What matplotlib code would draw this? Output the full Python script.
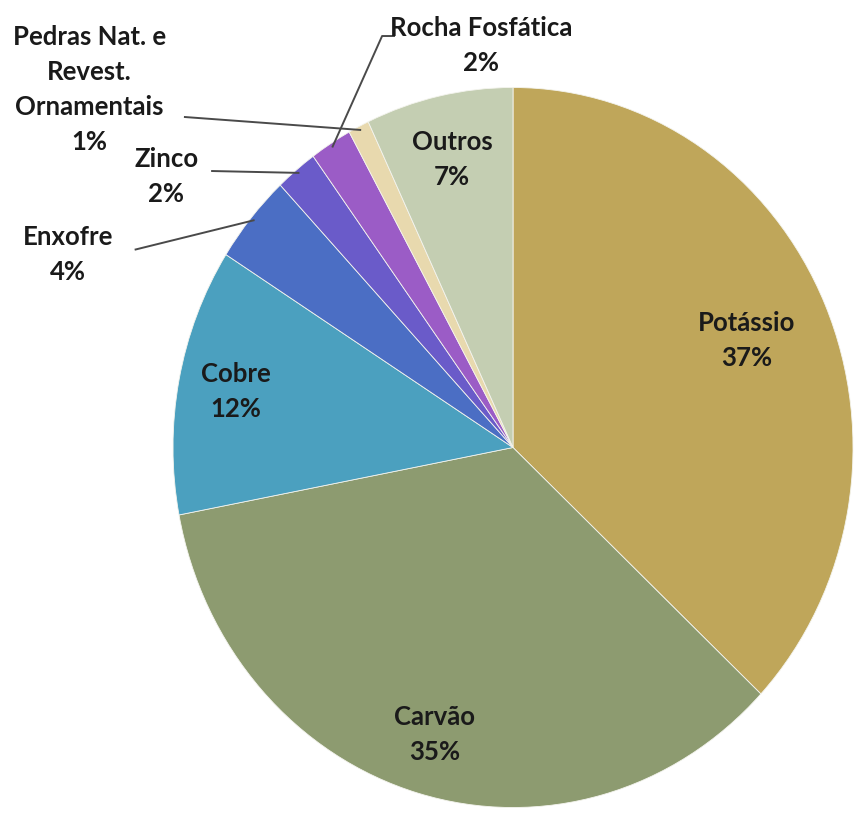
import numpy as np
import matplotlib.pyplot as plt

# shares of mineral production (%), clockwise from 12 o'clock
names = ['Potássio', 'Carvão', 'Cobre', 'Enxofre', 'Zinco',
         'Rocha Fosfática', 'Pedras Nat. e\nRevest.\nOrnamentais', 'Outros']
shares = [37, 35, 12, 4, 2, 2, 1, 7]
colors = ['#BFA65A', '#8D9B70', '#4BA0BF', '#4B6EC4', '#6A5BC9',
          '#9B5CC6', '#E8D9AE', '#C4CEB2']

fig = plt.figure(figsize=(8.59, 8.14), dpi=100)
W, H = 859, 814
cx, cy, rx, ry = 513, 447.5, 340, 360
ax = fig.add_axes([(cx - rx) / W, (H - cy - ry) / H, 2 * rx / W, 2 * ry / H])

wedges, _ = ax.pie(shares, colors=colors, startangle=90, counterclock=False,
                   wedgeprops=dict(linewidth=0.6, edgecolor='#f4f4ee'))
ax.set_aspect('auto')
ax.set_xlim(-1, 1)
ax.set_ylim(-1, 1)
ax.axis('off')

font = dict(family='Lato', fontweight='bold', fontsize=18.5, color='#1a1a1a',
            ha='center', va='center', linespacing=1.55)


def mid(w):
    return np.deg2rad((w.theta1 + w.theta2) / 2)


# labels inside the big wedges
inside = {0: 0.75, 1: 0.83, 2: 0.83, 7: 0.82}
for i, r in inside.items():
    a = mid(wedges[i])
    ax.text(r * np.cos(a), r * np.sin(a), f'{names[i]}\n{shares[i]}%', **font)

# labels outside the small wedges, with leader lines
outside = {
    3: ((-1.31, 0.535), [(-1.11, 0.55)]),
    4: ((-1.02, 0.754), [(-0.885, 0.768)]),
    6: ((-1.245, 0.995), [(-0.965, 0.918)]),
    5: ((-0.094, 1.118), [(-0.35, 1.143), (-0.385, 1.143)]),
}
for i, (pos, path) in outside.items():
    ax.text(pos[0], pos[1], f'{names[i]}\n{shares[i]}%', clip_on=False, **font)
    a = mid(wedges[i])
    pts = path + [(0.99 * np.cos(a), 0.99 * np.sin(a))]
    xs, ys = zip(*pts)
    ax.plot(xs, ys, color='#4a4a4a', lw=1.4, clip_on=False)

fig.savefig('out.png', dpi=100)
